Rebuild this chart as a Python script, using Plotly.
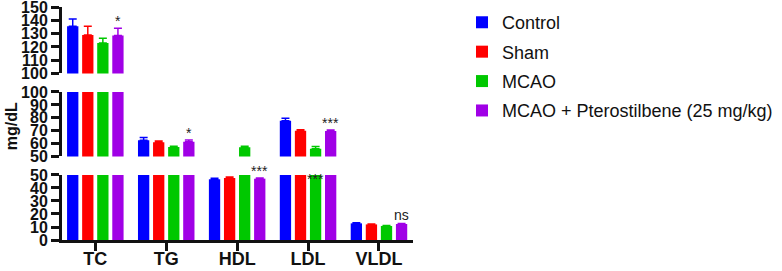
import plotly.graph_objects as go

categories = ["TC", "TG", "HDL", "LDL", "VLDL"]
groups = ["Control", "Sham", "MCAO", "MCAO + Pterostilbene (25 mg/kg)"]
colors = ["#0000FF", "#FF0000", "#00C800", "#A000E6"]

control = [135.5, 62.5, 46.7, 77.7, 12.8]
sham = [129.0, 61.0, 47.7, 70.0, 12.0]
mcao = [123.0, 57.3, 57.1, 56.0, 10.8]
ptero = [128.5, 61.5, 47.2, 69.8, 12.3]

control_err = [5.5, 2.3, 0.7, 1.9, 0.4]
sham_err = [6.5, 1.0, 0.7, 0.8, 0.3]
mcao_err = [3.5, 0.7, 0.8, 1.8, 0.3]
ptero_err = [5.5, 1.2, 0.5, 0.7, 0.3]

values = [control, sham, mcao, ptero]
errors = [control_err, sham_err, mcao_err, ptero_err]

# significance marks: (category index, group index, text, y axis, anchored to axis top?)
marks = [
    (0, 3, "*", "y", False),
    (1, 3, "*", "y2", False),
    (3, 3, "***", "y2", False),
    (2, 3, "***", "y3", False),
    (3, 2, "***", "y3", True),
    (4, 3, "ns", "y3", False),
]

segments = [("y", [100, 150], [0.7146, 1.0]),
            ("y2", [50, 100], [0.3584, 0.6352]),
            ("y3", [0, 50], [0.0, 0.279])]

FONT = "Liberation Sans, Arial, sans-serif"
BARGAP = 0.15
BARGROUPGAP = 0.25

fig = go.Figure()
for yref, rng, dom in segments:
    for gi, g in enumerate(groups):
        fig.add_trace(go.Bar(
            x=list(range(len(categories))), y=values[gi], name=g,
            xaxis="x", yaxis=yref,
            marker=dict(color=colors[gi], line=dict(width=0)),
            error_y=dict(type="data", array=errors[gi], arrayminus=[0] * len(categories),
                         symmetric=False, color=colors[gi], thickness=1.5, width=4),
            showlegend=(yref == "y3"), legendgroup=g,
        ))

axis_common = dict(showline=True, linewidth=3, linecolor="#111", ticks="outside",
                   ticklen=8, tickwidth=3, tickcolor="#111", showgrid=False, zeroline=False,
                   tickmode="linear", tick0=0, dtick=10, automargin=False,
                   ticklabeloverflow="allow",
                   tickfont=dict(family=FONT, size=16, color="#111", weight="bold"))

layout = dict(
    width=782, height=271,
    margin=dict(l=62, r=369, t=7, b=31, autoexpand=False),
    paper_bgcolor="white", plot_bgcolor="white",
    barmode="group", bargap=BARGAP, bargroupgap=BARGROUPGAP,
    xaxis=dict(range=[-0.47, 4.48], anchor="y3", showline=True, linewidth=3, linecolor="#111",
               ticks="outside", ticklen=8, tickwidth=3, tickcolor="#111", showgrid=False,
               zeroline=False, tickmode="array", tickvals=list(range(len(categories))),
               ticktext=categories, automargin=False, ticklabeloverflow="allow",
               ticklabelstandoff=-8,
               tickfont=dict(family=FONT, size=18, color="#111", weight="bold")),
    legend=dict(xref="container", yref="container", x=0.5908, y=0.985,
                xanchor="left", yanchor="top",
                font=dict(family=FONT, size=18, color="#111"), tracegroupgap=3,
                traceorder="grouped"),
    showlegend=True,
)
for yref, rng, dom in segments:
    key = "yaxis" if yref == "y" else "yaxis" + yref[1:]
    layout[key] = dict(axis_common, range=rng, domain=dom, anchor="x")
fig.update_layout(**layout)

w = (1 - BARGAP) / len(groups)
annotations = []
for ci, gi, txt, yref, at_top in marks:
    xpos = ci + (gi - 1.5) * w
    if at_top:
        rng = [s[1] for s in segments if s[0] == yref][0]
        ypos = rng[1]
        ya, ys = "middle", -4
    else:
        ypos = values[gi][ci] + errors[gi][ci]
        ya, ys = "bottom", -3 if txt != "ns" else -1
    annotations.append(dict(x=xpos, y=ypos, xref="x", yref=yref, text=txt, showarrow=False,
                            yanchor=ya, yshift=ys,
                            font=dict(family=FONT, size=14, color="#222")))
annotations.append(dict(x=-0.145, y=0.489, xref="paper", yref="paper", text="mg/dL",
                        textangle=-90, showarrow=False, xanchor="center", yanchor="middle",
                        font=dict(family=FONT, size=16, color="#111", weight="bold")))
fig.update_layout(annotations=annotations)

fig.write_html("out.html", config={"displayModeBar": False},
               post_script="document.body.style.margin='0';")
